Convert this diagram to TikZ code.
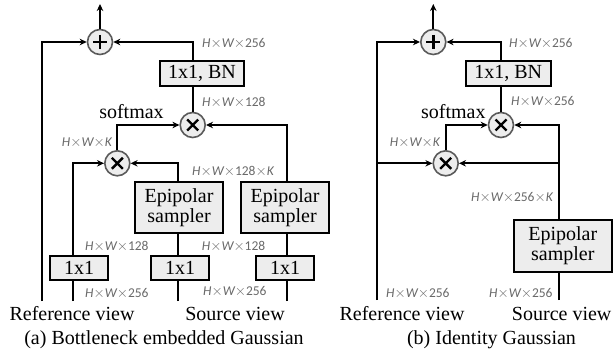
\documentclass[tikz,border=0pt]{standalone}
\usepackage{fontspec}
\setmainfont{Liberation Serif}
\newfontfamily\lblfont{Carlito}
\usetikzlibrary{arrows.meta,calc}
\definecolor{boxfill}{RGB}{237,237,237}
\definecolor{lblgray}{RGB}{105,105,105}
\definecolor{circgray}{RGB}{90,90,90}
\newcommand{\dimlbl}[1]{{\lblfont\itshape H\upshape$\times$\itshape W\upshape$\times$#1}}
\begin{document}
\begin{tikzpicture}[x=1pt,y=-1pt,
  wire/.style={line width=2pt},
  arr/.style={line width=2pt,-{Stealth[length=7pt,width=6.5pt]}},
  opbox/.style={draw,line width=2pt,fill=boxfill,inner sep=0pt,font=\fontsize{20}{24}\selectfont,align=center},
  opcirc/.style={circle,draw=circgray,line width=1.6pt,fill=boxfill,minimum size=25pt,inner sep=0pt},
  lbl/.style={font=\fontsize{13.5}{15}\selectfont,text=lblgray,inner sep=0pt},
  txt/.style={font=\fontsize{20}{24}\selectfont,inner sep=0pt}
]
\useasboundingbox (0,0) rectangle (613,358);
\newcommand{\plussym}[1]{\draw[line width=2.4pt] ($(#1)+(-7,0)$) -- ($(#1)+(7,0)$) ($(#1)+(0,-7)$) -- ($(#1)+(0,7)$);}
\newcommand{\timessym}[1]{\draw[line width=2.4pt] ($(#1)+(-5.5,-5.5)$) -- ($(#1)+(5.5,5.5)$) ($(#1)+(-5.5,5.5)$) -- ($(#1)+(5.5,-5.5)$);}

% ---------------- Panel (a) ----------------
\node[opcirc] (plusA) at (100,42) {};
\plussym{plusA}
\coordinate (outA) at (100,4);
\node[opbox,minimum width=84pt,minimum height=25pt] (bnA) at (202,73.5) {1x1, BN};
\node[opcirc] (timA1) at (192.7,125) {};
\timessym{timA1}
\node[opcirc] (timA2) at (117.3,163.3) {};
\timessym{timA2}
\node[opbox,minimum width=88pt,minimum height=51.5pt] (epiA1) at (179,207.5) {Epipolar\\[-4pt]sampler};
\node[opbox,minimum width=88pt,minimum height=51.5pt] (epiA2) at (285,207.5) {Epipolar\\[-4pt]sampler};
\node[opbox,minimum width=58pt,minimum height=24pt] (oneA1) at (79,268) {1x1};
\node[opbox,minimum width=58pt,minimum height=24pt] (oneA2) at (180,268) {1x1};
\node[opbox,minimum width=58pt,minimum height=24pt] (oneA3) at (285,268) {1x1};
\coordinate (refA) at (41.7,301);
\coordinate (inA1) at (72.7,301);
\coordinate (inA2) at (178.3,301);
\coordinate (inA3) at (287.3,301);

\draw[arr] (plusA.north) -- (outA);
\draw[arr] (refA) |- (plusA.west);
\draw[arr] (bnA.north -| timA1) |- (plusA.east);
\draw[wire] (timA1.north) -- (bnA.south -| timA1);
\draw[arr] (timA2.north) |- (timA1.west);
\draw[arr] (epiA2.north -| inA3) |- (timA1.east);
\draw[arr] (oneA1.north -| inA1) |- (timA2.west);
\draw[arr] (epiA1.north -| inA2) |- (timA2.east);
\draw[wire] (inA1) -- (oneA1.south -| inA1);
\draw[wire] (inA2) -- (oneA2.south -| inA2);
\draw[wire] (oneA2.north -| inA2) -- (epiA1.south -| inA2);
\draw[wire] (inA3) -- (oneA3.south -| inA3);
\draw[wire] (oneA3.north -| inA3) -- (epiA2.south -| inA3);

\node[lbl,anchor=west] (la1) at (202,44) {\dimlbl{256}};
\node[lbl,anchor=west] (la2) at (202,102) {\dimlbl{128}};
\node[lbl,anchor=east] (la3) at (112,143) {\dimlbl{\itshape K}};
\node[lbl,anchor=west] (la4) at (192,171) {\dimlbl{128$\times$\itshape K}};
\node[lbl,anchor=west] (la5) at (85,246) {\dimlbl{128}};
\node[lbl,anchor=west] (la6) at (201.7,246) {\dimlbl{128}};
\node[lbl,anchor=west] (la7) at (85,294) {\dimlbl{256}};
\node[lbl,anchor=west] (la8) at (203,292) {\dimlbl{256}};
\node[txt] (smA) at (131.5,112) {softmax};
\node[txt] (rvA) at (72,314) {Reference view};
\node[txt] (svA) at (235,314) {Source view};
\node[txt] (capA) at (164,340) {(a) Bottleneck embedded Gaussian};

% ---------------- Panel (b) ----------------
\node[opcirc] (plusB) at (433.3,42) {};
\plussym{plusB}
\coordinate (outB) at (433.3,4);
\node[opbox,minimum width=85pt,minimum height=25pt] (bnB) at (508.2,73.5) {1x1, BN};
\node[opcirc] (timB1) at (501,125) {};
\timessym{timB1}
\node[opcirc] (timB2) at (445.7,163.3) {};
\timessym{timB2}
\node[opbox,minimum width=97.5pt,minimum height=51.5pt] (epiB) at (562.8,245.8) {Epipolar\\[-4pt]sampler};
\coordinate (refB) at (377.3,300);
\coordinate (inB) at (558.6,300);
\coordinate (brL) at (377.3,163.3);
\coordinate (brR) at (558.6,163.3);

\draw[arr] (plusB.north) -- (outB);
\draw[arr] (refB) |- (plusB.west);
\draw[arr] (brL) -- (timB2.west);
\draw[arr] (bnB.north -| timB1) |- (plusB.east);
\draw[wire] (timB1.north) -- (bnB.south -| timB1);
\draw[arr] (timB2.north) |- (timB1.west);
\draw[arr] (epiB.north -| inB) |- (timB1.east);
\draw[arr] (brR) -- (timB2.east);
\draw[wire] (inB) -- (epiB.south -| inB);

\node[lbl,anchor=west] (lb1) at (509,44) {\dimlbl{256}};
\node[lbl,anchor=west] (lb2) at (511,102) {\dimlbl{256}};
\node[lbl,anchor=east] (lb3) at (440,143) {\dimlbl{\itshape K}};
\node[lbl,anchor=west] (lb4) at (471,197.7) {\dimlbl{256$\times$\itshape K}};
\node[lbl,anchor=west] (lb5) at (386,294) {\dimlbl{256}};
\node[lbl,anchor=west] (lb6) at (489,294) {\dimlbl{256}};
\node[txt] (smB) at (453.3,112) {softmax};
\node[txt] (rvB) at (402,314) {Reference view};
\node[txt] (svB) at (561.7,314) {Source view};
\node[txt] (capB) at (491.5,340) {(b) Identity Gaussian};
\end{tikzpicture}
\end{document}
